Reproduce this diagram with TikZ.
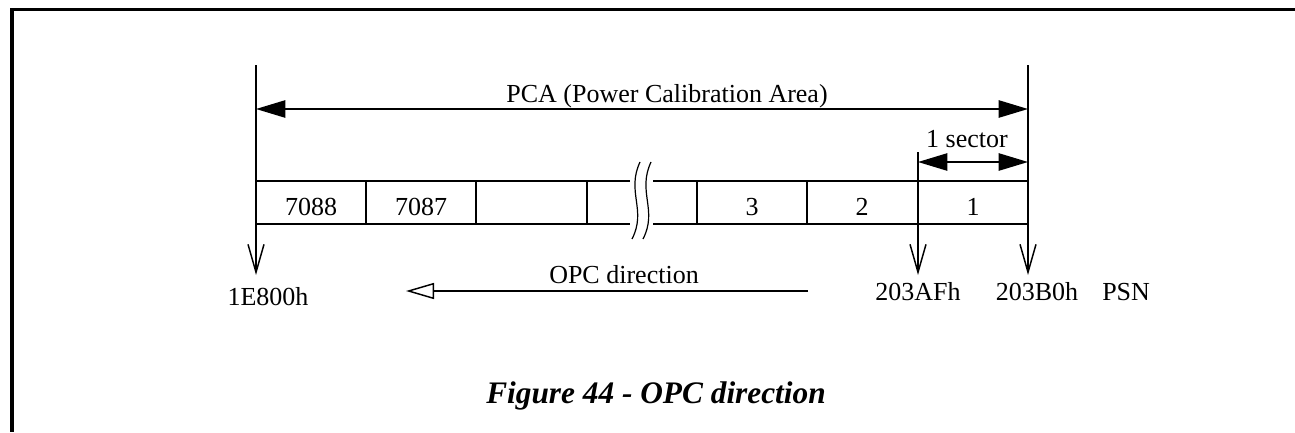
\documentclass[tikz,border=0pt]{standalone}
\usepackage{fontspec}
\setmainfont{Liberation Serif}
\usetikzlibrary{arrows.meta,positioning,calc}
\tikzset{
  lbl/.style={font=\fontsize{19.5pt}{23pt}\selectfont,inner sep=0pt,anchor=base},
  capt/.style={font=\fontsize{23.5pt}{28pt}\selectfont\bfseries\itshape,inner sep=0pt,anchor=base},
  cell/.style={line width=1.1pt},
  frame/.style={line width=2.6pt},
  dimar/.style={{Triangle[length=22pt,width=13pt]}-{Triangle[length=22pt,width=13pt]},line width=1.1pt},
  ptr/.style={-{Straight Barb[length=21pt,width=12pt]},line width=1.1pt},
  dirar/.style={-{Triangle[open,length=21pt,width=12pt,line width=1.1pt]},line width=1.1pt},
}
\begin{document}
\begin{tikzpicture}[x=0.75pt,y=-0.75pt]
    \useasboundingbox (0,0) rectangle (1295,432);
    \coordinate (frR) at (1295,9.5);
    \coordinate (frB) at (12,432);
    \draw[frame] (frR) -| (frB);
    \coordinate (pcaL) at (256,65);
    \coordinate (pcaR) at (1028,65);
    \coordinate (endL) at (256,275);
    \coordinate (endR) at (1028,275);
    \coordinate (secT) at (918,152);
    \coordinate (secB) at (918,275);
    \draw[ptr] (pcaL) -- (endL);
    \draw[ptr] (pcaR) -- (endR);
    \draw[ptr] (secT) -- (secB);
    \coordinate (pcaA) at (256,109);
    \coordinate (pcaB) at (1028,109);
    \draw[dimar] (pcaA) -- (pcaB);
    \node[lbl] (pca) at (667,102) {PCA (Power Calibration Area)};
    \coordinate (secA) at (918,162);
    \coordinate (secZ) at (1028,162);
    \draw[dimar] (secA) -- (secZ);
    \node[lbl] (sector) at (967,147) {1 sector};
    \draw[cell] (256,181) -- (630,181) (653,181) -- (1028,181);
    \draw[cell] (256,224) -- (630,224) (653,224) -- (1028,224);
    \foreach \x in {366,476,587,697,807}
      \draw[cell] (\x,181) -- (\x,224);
    \foreach \dx in {0,11}
      \draw[line width=0.9pt] (640+\dx,162) .. controls (626+\dx,192) and (647+\dx,210) .. (632+\dx,239);
    \foreach \x/\t in {311/7088,421/7087,752/3,862/2,973/1}
      \node[lbl] (c\t) at (\x,215) {\t};
    \node[lbl] (adrL) at (268,305) {1E800h};
    \node[lbl] (adrM) at (918,300) {203AFh};
    \node[lbl] (adrR) at (1037,300) {203B0h};
    \node[lbl,anchor=base west] (psn) at (1102,300) {PSN};
    \coordinate (opcS) at (808,291);
    \coordinate (opcE) at (406,291);
    \draw[dirar] (opcS) -- (opcE);
    \node[lbl] (opc) at (624,283) {OPC direction};
    \node[capt] (caption) at (656,403) {Figure 44 - OPC direction};
\end{tikzpicture}
\end{document}
